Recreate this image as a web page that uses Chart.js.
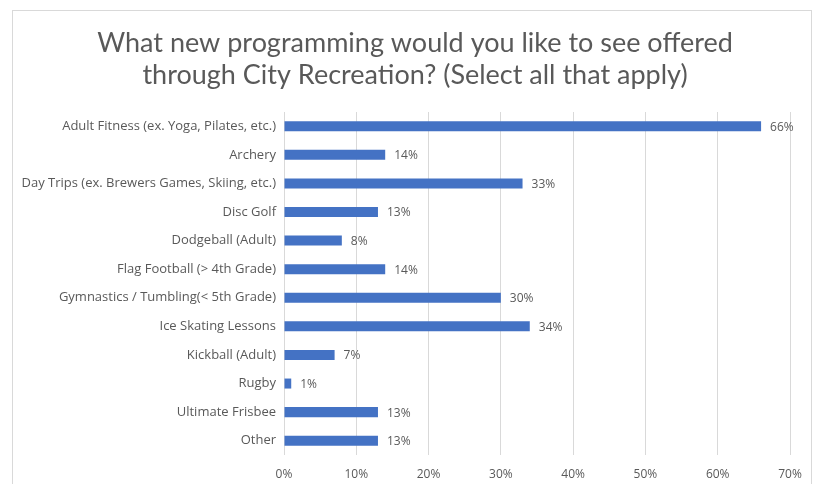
<!DOCTYPE html>
<html>
<head>
<meta charset="utf-8">
<script src="https://cdn.jsdelivr.net/npm/chart.js@4"></script>
<style>
html,body{margin:0;padding:0;background:#fff;}
#wrap{width:823px;height:484px;}
</style>
</head>
<body>
<div id="wrap"><canvas id="c" width="823" height="484"></canvas></div>
<script>
const categories = [
  "Adult Fitness (ex. Yoga, Pilates, etc.)",
  "Archery",
  "Day Trips (ex. Brewers Games, Skiing, etc.)",
  "Disc Golf",
  "Dodgeball (Adult)",
  "Flag Football (> 4th Grade)",
  "Gymnastics / Tumbling(< 5th Grade)",
  "Ice Skating Lessons",
  "Kickball (Adult)",
  "Rugby",
  "Ultimate Frisbee",
  "Other"
];
const values = [66, 14, 33, 13, 8, 14, 30, 34, 7, 1, 13, 13];
const titleLines = ["What new programming would you like to see offered", "through City Recreation? (Select all that apply)"];

const TFONT = "Lato, 'Open Sans', sans-serif";
const FONT = "'Open Sans', Lato, sans-serif";
const TXT = "#595959";

const framePlugin = {
  id: 'frame',
  beforeDraw(chart) {
    const ctx = chart.ctx;
    ctx.save();
    ctx.fillStyle = '#fff';
    ctx.fillRect(0, 0, chart.width, chart.height);
    ctx.strokeStyle = '#D9D9D9';
    ctx.lineWidth = 1;
    ctx.strokeRect(12.5, 10.5, 799, 490);
    ctx.restore();
  }
};

const labelPlugin = {
  id: 'barLabels',
  afterDatasetsDraw(chart) {
    const ctx = chart.ctx;
    const meta = chart.getDatasetMeta(0);
    ctx.save();
    ctx.font = "12px " + FONT;
    ctx.fillStyle = TXT;
    ctx.textAlign = 'left';
    ctx.textBaseline = 'middle';
    meta.data.forEach((bar, i) => {
      ctx.fillText(values[i] + '%', bar.x + 9, bar.y + 1);
    });
    ctx.restore();
  }
};

new Chart(document.getElementById('c'), {
  type: 'bar',
  data: {
    labels: categories,
    datasets: [{
      data: values,
      backgroundColor: '#4472C4',
      borderColor: '#4472C4',
      borderWidth: 0,
      categoryPercentage: 0.35,
      barPercentage: 1.0
    }]
  },
  options: {
    indexAxis: 'y',
    responsive: false,
    animation: false,
    layout: { padding: { left: 14, right: 7, top: 0, bottom: 0 } },
    plugins: {
      legend: { display: false },
      tooltip: { enabled: false },
      title: {
        display: true,
        text: titleLines,
        color: TXT,
        font: { family: TFONT, size: 27, weight: 'normal', lineHeight: 1.185 },
        padding: { top: 27, bottom: 21 }
      }
    },
    scales: {
      x: {
        min: 0, max: 70,
        ticks: {
          stepSize: 10,
          callback: v => v + '%',
          color: TXT,
          font: { family: FONT, size: 12 },
          padding: 12
        },
        grid: { color: '#D9D9D9', drawTicks: false },
        border: { display: false },
        afterFit(scale) { scale.height = 29; scale.paddingRight = 33; }
      },
      y: {
        ticks: {
          color: TXT,
          font: { family: FONT, size: 13 },
          padding: 8,
          autoSkip: false
        },
        grid: { display: false, drawTicks: false },
        border: { display: false },
        afterFit(scale) { scale.width = 270; }
      }
    }
  },
  plugins: [framePlugin, labelPlugin]
});
</script>
</body>
</html>
